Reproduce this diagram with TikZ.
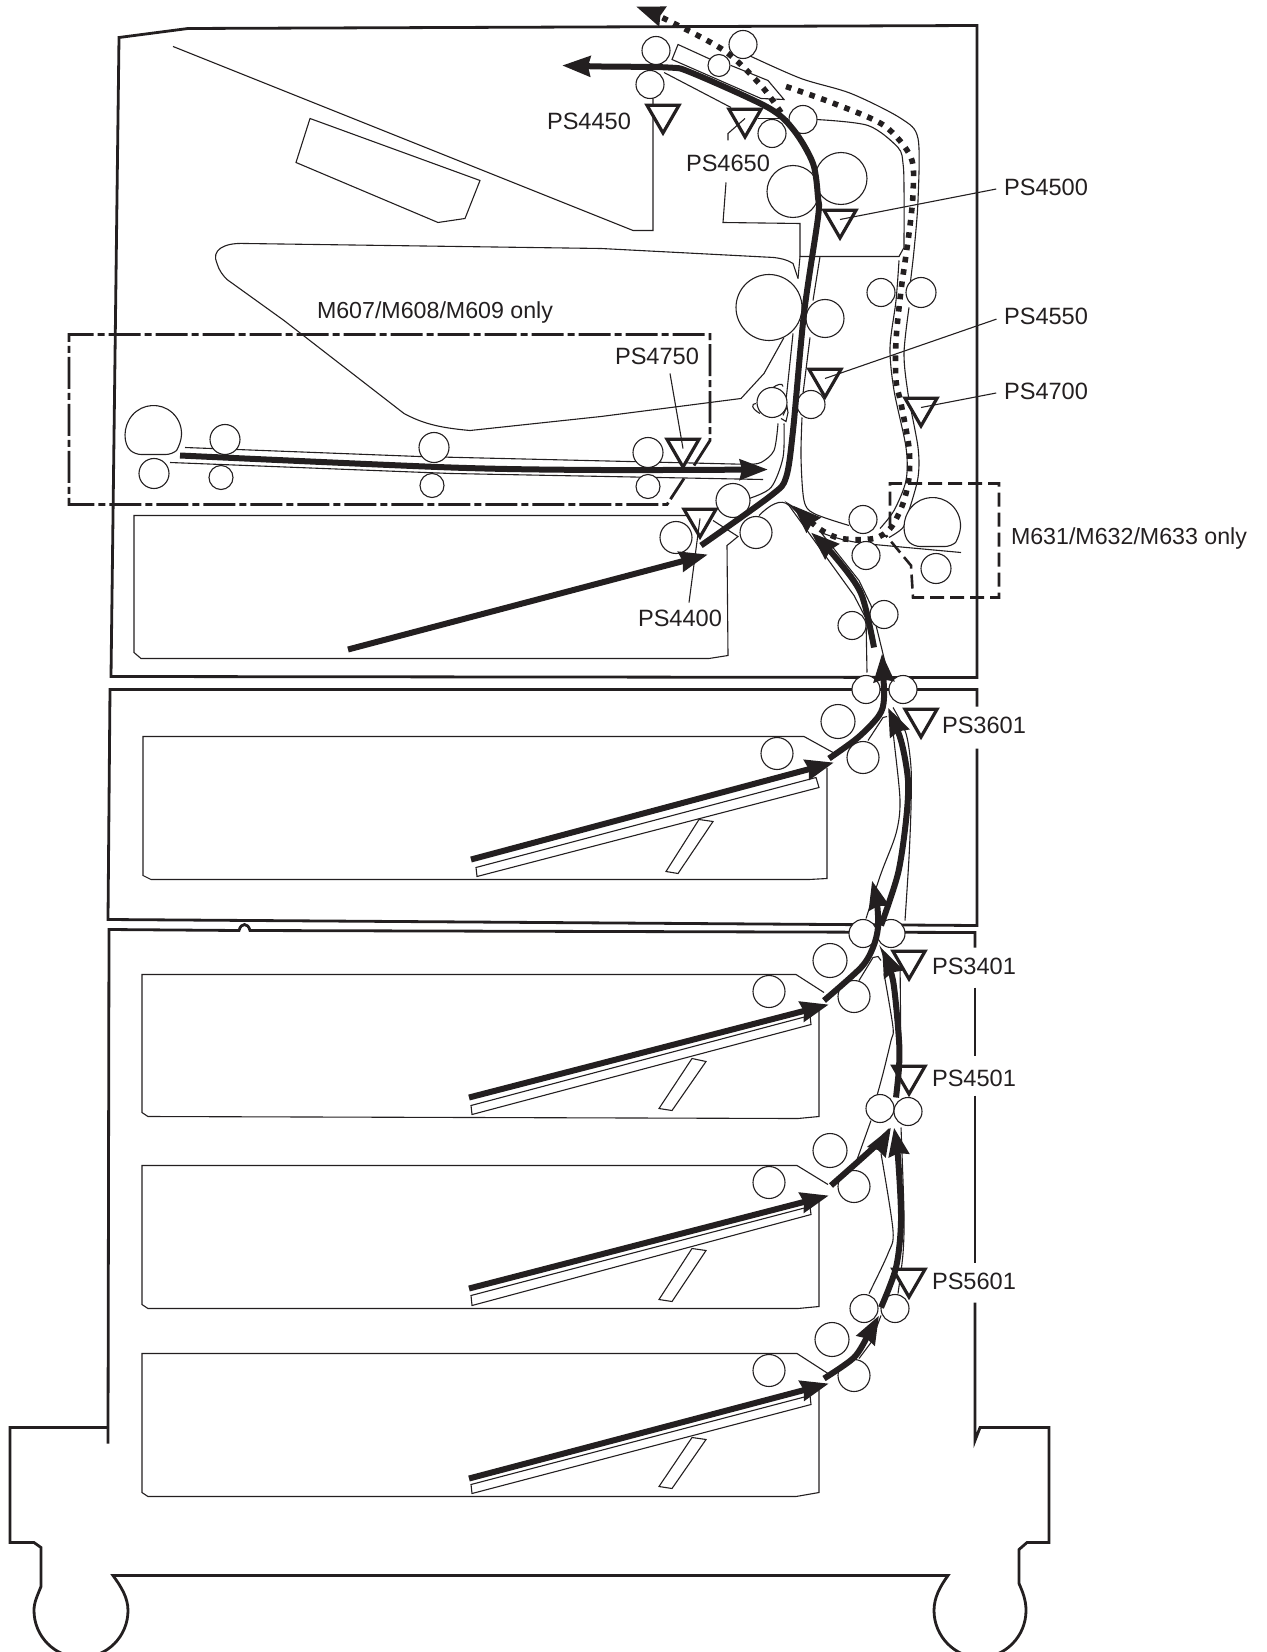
\documentclass[tikz,border=0pt]{standalone}
\usepackage{fontspec}
\setmainfont{Liberation Sans}
\usepackage{xcolor}
\usetikzlibrary{shapes.geometric, arrows.meta}
\definecolor{ink}{HTML}{231F20}
\tikzstyle{frame} = [line width=1.4pt, draw=ink, line join=miter]
\tikzstyle{guide} = [line width=0.55pt, draw=ink]
\tikzstyle{roller} = [circle, draw=ink, line width=0.55pt, fill=white, inner sep=0pt, outer sep=0pt]
\tikzstyle{sensor} = [regular polygon, regular polygon sides=3, shape border rotate=180, minimum size=18.5pt, inner sep=0pt, outer sep=0pt, draw=ink, line width=1.6pt, fill=white]
\tikzstyle{tag} = [anchor=west, inner sep=0pt, outer sep=0pt, text=ink, font=\fontsize{11.8pt}{14pt}\selectfont]
\tikzstyle{leader} = [line width=0.55pt, draw=ink, shorten >=4pt]
\tikzstyle{paper} = [line width=3pt, draw=ink, -{Stealth[length=14pt,width=10pt,inset=1pt]}]
\tikzstyle{duplex} = [line width=2.8pt, draw=ink, dash pattern=on 2.8pt off 3.4pt, -{Stealth[length=14pt,width=10pt,inset=1pt]}]
\begin{document}
\begin{tikzpicture}[x=0.5pt,y=-0.5pt]
        \useasboundingbox (-1,-0.5) rectangle (1265,1651.5);
        \clip (-1,-0.5) rectangle (1265,1651.5);

        \draw [frame] (110,676) -- (118,37) -- (187,28) -- (976,25) -- (976,677) -- cycle;
        \draw [frame] (976,706) -- (976,689) -- (109,689) -- (107,919) -- (976,925) -- (976,748);
        \draw [frame] (974,947) -- (974,932) -- (249,930) .. controls (247,922) and (240,922) .. (238,930) -- (108,929) -- (107,1443);
        \draw [frame] (974,987) -- (974,1055);
        \draw [frame] (974,1095) -- (974,1262);
        \draw [frame] (974,1302) -- (974,1440) -- (979,1427) -- (1048,1427) -- (1048,1542) -- (1026,1542) -- (1018,1549) -- (1018,1583) .. controls (1022,1592) and (1025,1600) .. (1025,1610) .. controls (1025,1636) and (1004,1657) .. (979,1657) .. controls (954,1657) and (933,1636) .. (933,1610) .. controls (933,1597) and (939,1586) .. (947,1575) -- (112,1575) .. controls (120,1586) and (127,1597) .. (127,1610) .. controls (127,1636) and (106,1657) .. (80,1657) .. controls (54,1657) and (33,1636) .. (33,1610) .. controls (33,1602) and (36,1596) .. (40,1586) -- (40,1547) -- (33,1542) -- (9,1542) -- (9,1427) -- (107,1427);

        \draw [guide] (687,515) -- (133,515) -- (133,652) -- (140,658) -- (708,658) -- (727,655) -- (726,545) -- (737,536) -- (712,520);
        \draw [guide] (803,736) -- (142,736) -- (142,875) -- (150,879) -- (808,879) -- (826,878) -- (826,767);
        \draw [guide] (803,736) -- (832,752);
        \draw [guide] (795,974) -- (141,974) -- (141,1112) -- (147,1116) -- (797,1118) -- (818,1116) -- (818,1010);
        \draw [guide] (795,974) -- (823,992);
        \draw [guide] (796,1165) -- (141,1165) -- (141,1304) -- (147,1308) -- (797,1308) -- (818,1306) -- (818,1200);
        \draw [guide] (796,1165) -- (827,1184);
        \draw [guide] (796,1353) -- (141,1353) -- (141,1492) -- (147,1496) -- (795,1496) -- (818,1492) -- (818,1383);
        \draw [guide] (796,1353) -- (827,1373);

        \draw [guide] (475,867) -- (815,777) -- (818,787) -- (476,876) -- cycle;
        \draw [guide] (698,819) -- (712,821) -- (677,873) -- (665,871) -- cycle;
        \draw [guide] (470,1105) -- (809,1015) -- (810,1024) -- (471,1114) -- cycle;
        \draw [guide] (691,1058) -- (705,1061) -- (671,1110) -- (658,1108) -- cycle;
        \draw [guide] (470,1295) -- (809,1206) -- (810,1214) -- (471,1305) -- cycle;
        \draw [guide] (691,1248) -- (705,1250) -- (671,1301) -- (658,1299) -- cycle;
        \draw [guide] (470,1484) -- (809,1395) -- (810,1404) -- (471,1493) -- cycle;
        \draw [guide] (691,1437) -- (705,1439) -- (671,1488) -- (658,1486) -- cycle;

        \draw [guide] (172,46) -- (632,230) -- (652,230) -- (652,98);
        \draw [guide] (309,118) -- (479,180) -- (464,218) -- (437,222) -- (295,162) -- cycle;
        \draw [guide] (797,278) -- (792,263) .. controls (786,259) and (780,258) .. (773,257) -- (600,248) -- (244,243) .. controls (222,242) and (210,250) .. (216,263) .. controls (218,270) and (222,275) .. (226,279) -- (283,320) -- (403,413) .. controls (420,422) and (435,427) .. (469,430) -- (600,416) -- (740,398) -- (763,373) -- (783,337);

        \draw [guide] (712,60) -- (677,44) -- (671,59) -- (760,98) -- (783,99) -- (767,80) -- (730,65);
        \draw [guide] (663,72) -- (730,107);
        \draw [guide] (757,118) -- (787,118);
        \draw [guide] plot[smooth] coordinates {(815,119) (867,125) (897,147) (902,163) (903,187) (903,247)};
        \draw [guide] (903,247) -- (898,256) -- (799,256) -- (799,223) -- (722,222) -- (725,182);
        \draw [guide] (799,256) -- (797,278);
        \draw [guide] plot[smooth] coordinates {(748,55) (800,78) (850,93) (900,118) (917,138) (917,200) (913,250) (908,293)};
        \draw [guide] plot[smooth] coordinates {(908,307) (903,353) (907,393) (917,447) (917,477) (908,510) (902,527) (888,537)};
        \draw [guide] plot[smooth] coordinates {(898,260) (895,300) (889,347) (893,390) (905,447) (905,480) (893,510) (879,528)};
        \draw [guide] (819,256) -- (812,300);
        \draw [guide] (809,337) -- (802,393);
        \draw [guide] plot[smooth] coordinates {(801,417) (800,457) (803,500) (813,513) (848,525)};
        \draw [guide] (792,333) -- (785,400);
        \draw [guide] plot[smooth] coordinates {(783,423) (782,457) (770,487) (748,498)};
        \draw [guide] plot[smooth] coordinates {(777,423) (773,450) (760,462) (747,464)};
        \draw [guide] (184,447) -- (418,456) -- (753,464);
        \draw [guide] (169,462) -- (450,473) -- (762,479);
        \draw [guide] (772,387) .. controls (776,384) and (782,382) .. (782,386);
        \draw [guide] (755,403) .. controls (750,403) and (750,408) .. (759,413);
        \draw [guide] (782,415) -- (786,406) -- (787,412) -- (785,421) -- (780,418);

        \draw [guide] (758,515) .. controls (768,505) and (780,497) .. (788,505) -- (853,595) -- (865,618) -- (866,672);
        \draw [guide] (820,532) -- (858,580) -- (870,605) -- (878,637) -- (888,678);
        \draw [guide] (820,532) .. controls (835,538) and (850,542) .. (873,544) -- (960,552);

        \draw [guide] (867,740) -- (882,717) -- (886,716);
        \draw [guide] plot[smooth] coordinates {(890,713) (893,740) (899,800) (895,833) (880,873) (865,918)};
        \draw [guide] plot[smooth] coordinates {(892,707) (905,733) (910,767) (910,807) (908,857) (904,920)};
        \draw [guide] (858,980) -- (872,957) -- (877,956) -- (880,960);
        \draw [guide] plot[smooth] coordinates {(883,973) (892,1027) (890,1040) (882,1073) (876,1095)};
        \draw [guide] (899,957) -- (900,1066);
        \draw [guide] (870,1120) -- (855,1162);
        \draw [guide] plot[smooth] coordinates {(900,1127) (903,1213) (902,1253) (897,1293)};
        \draw [guide] plot[smooth] coordinates {(880,1153) (892,1230) (887,1253) (868,1293)};
        \draw [guide] (858,1358) -- (870,1342) -- (880,1315);

        \draw [frame, dash pattern=on 16pt off 2pt on 3.5pt off 2pt] (693,465) -- (709,440) -- (709,334) -- (68,334) -- (68,504) -- (666,504) -- (683,478);
        \draw [frame, line width=1.3pt, dash pattern=on 7pt off 3pt] (889,525) -- (889,483) -- (998,483) -- (998,597) -- (912,597) -- (910,565) -- (885,535);

        \foreach \x/\y/\r [count=\i] in {655/50/14, 649/84/14, 742/44/14, 718/65/11, 802/119/14, 771/133/14, 840/178/26, 792/191/26, 880/292/14, 920/292/15, 768/307/33, 824/318/19, 771/402/15, 810/404/14, 647/452/15, 647/486/12, 732/500/17, 675/537/16, 755/532/16, 862/519/14, 865/555/14, 935/568/15, 883/614/14, 851/625/14, 865/689/14, 902/689/14, 837/721/17, 776/753/16, 862/757/16, 862/933/14, 890/933/14, 829/960/17, 853/996/16, 768/991/16, 879/1108/14, 907/1111/14, 829/1150/17, 853/1186/16, 768/1182/16, 863/1308/14, 894/1308/14, 831/1339/17, 853/1375/16, 768/1370/16, 224/439/15, 220/477/12, 433/447/15, 431/485/12, 153/473/15}
            \node (roll\i) [roller, minimum size=\r pt] at (\x,\y) {};
        \draw [guide, fill=white, rounded corners=3pt] (913,546) arc [start angle=131.4, end angle=408.6, radius=28] -- cycle;
        \draw [guide, fill=white, rounded corners=3pt] (134,454) arc [start angle=131.4, end angle=408.6, radius=28] -- cycle;

        \node (s4450) [sensor] at (662,114) {};
        \node (s4650) [sensor] at (744,118) {};
        \node (s4500) [sensor] at (839,219) {};
        \node (s4550) [sensor] at (824,378) {};
        \node (s4700) [sensor] at (920,407) {};
        \node (s4750) [sensor] at (682,448) {};
        \node (s4400) [sensor] at (699,518) {};
        \node (s3601) [sensor] at (920,718) {};
        \node (s3401) [sensor] at (908,960) {};
        \node (s4501) [sensor] at (908,1075) {};
        \node (s5601) [sensor] at (908,1278) {};

        \node (t4450) [tag] at (546,121) {PS4450};
        \node (t4650) [tag] at (685,163) {PS4650};
        \node (t4500) [tag] at (1003,187) {PS4500};
        \node (t4550) [tag] at (1003,316) {PS4550};
        \node (t4700) [tag] at (1003,391) {PS4700};
        \node (t4750) [tag] at (614,356) {PS4750};
        \node (t4400) [tag] at (637,618) {PS4400};
        \node (t3601) [tag] at (941,725) {PS3601};
        \node (t3401) [tag] at (931,966) {PS3401};
        \node (t4501) [tag] at (931,1078) {PS4501};
        \node (t5601) [tag] at (931,1281) {PS5601};
        \node (m607) [tag, font=\fontsize{11.6pt}{14pt}\selectfont] at (316,312) {M607/M608/M609 only};
        \node (m631) [tag, font=\fontsize{11.6pt}{14pt}\selectfont] at (1010,538) {M631/M632/M633 only};

        \coordinate (c4750) at (669,373);
        \coordinate (c4400) at (688,602);
        \coordinate (c4650) at (727,140);
        \draw [leader] (s4500.center) -- (t4500.west);
        \draw [leader] (s4550.center) -- (t4550.west);
        \draw [leader] (s4700.center) -- (t4700.west);
        \draw [leader, shorten >=0pt] (s4750.center) -- (c4750);
        \draw [leader, shorten >=0pt] (s4400.center) -- (c4400);
        \draw [leader, shorten >=0pt] (s4650.center) -- (727,133) -- (c4650);

        \draw [paper] (347,649) -- (707,554);
        \draw [paper] (470,859) -- (833,762);
        \draw [paper] (468,1097) -- (828,1004);
        \draw [paper] (468,1288) -- (828,1195);
        \draw [paper] (468,1478) -- (828,1383);
        \draw [paper] plot[smooth] coordinates {(179,455) (450,467) (600,469.5) (767,469)};
        \draw [paper] plot[smooth] coordinates {(700,545) (770,495) (785,477) (792,430) (803,313) (817,217) (817,197) (812,163) (793,130) (767,107) (690,72) (667,67) (600,66) (561,65)};
        \draw [paper] plot[smooth] coordinates {(873,647) (860,593) (833,555) (810,532)};
        \draw [paper] plot[smooth] coordinates {(828,758) (857,737) (878,715) (883,697) (881,653)};
        \draw [paper] plot[smooth] coordinates {(880,925) (897,873) (905,820) (907,780) (900,740) (887,707)};
        \draw [paper] plot[smooth] coordinates {(823,1000) (860,967) (872,947) (877,927) (876,903) (871,880)};
        \draw [paper] plot[smooth] coordinates {(895,1097) (898,1067) (898,1040) (892,980) (881,948)};
        \draw [paper] plot[smooth] coordinates {(830,1185) (877,1143) (890,1127)};
        \draw [paper] plot[smooth] coordinates {(880,1307) (895,1267) (900,1220) (897,1157) (893,1127)};
        \draw [paper] plot[smooth] coordinates {(823,1378) (853,1357) (868,1333) (878,1315)};
        \draw [duplex] plot[smooth] coordinates {(780,112) (760,85) (723,50) (663,18) (635,6)};
        \draw [duplex] plot[smooth] coordinates {(785,86) (833,103) (883,125) (910,157) (912,193) (908,233) (900,290) (895,340) (895,380) (900,403) (908,447) (908,477) (902,503) (890,527) (873,538) (840,538) (818,528) (792,505)};
    \end{tikzpicture}
\end{document}
